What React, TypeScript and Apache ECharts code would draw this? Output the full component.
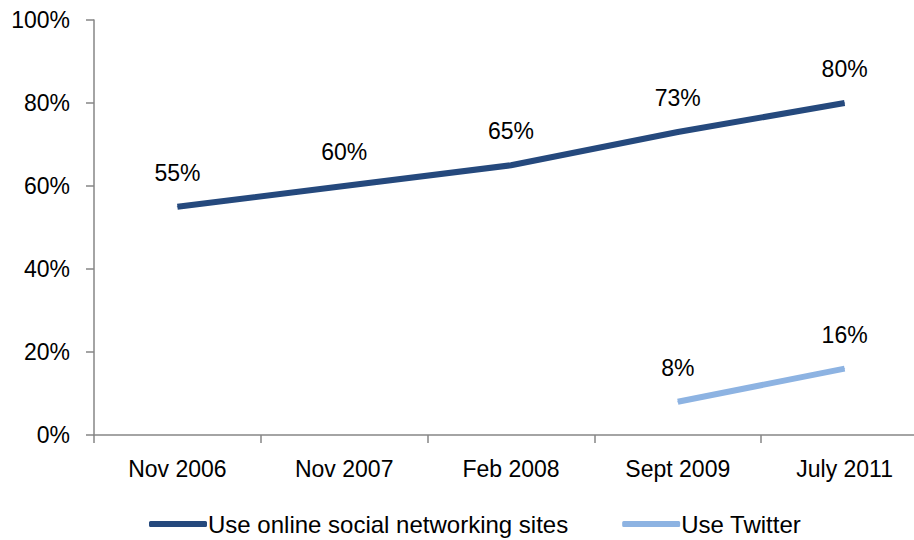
import React, { useEffect, useRef } from "react";
import * as echarts from "echarts";

const categories = ["Nov 2006", "Nov 2007", "Feb 2008", "Sept 2009", "July 2011"];
const socialValues = [55, 60, 65, 73, 80];
const twitterValues: (number | string)[] = ["-", "-", "-", 8, 16];
const yTicks = [0, 20, 40, 60, 80, 100];

const FONT = "Liberation Sans";

export default function App() {
  const ref = useRef<HTMLDivElement>(null);
  useEffect(() => {
    if (!ref.current) return;
    const chart = echarts.init(ref.current, null, { renderer: "svg" });
    const labelStyle = {
      show: true,
      position: "top" as const,
      distance: 22,
      formatter: "{c}%",
      fontFamily: FONT,
      fontSize: 23,
      color: "#000",
    };
    chart.setOption({
      animation: false,
      backgroundColor: "#fff",
      grid: { left: 94, top: 20, width: 834, height: 415 },
      xAxis: {
        type: "category",
        data: categories,
        boundaryGap: true,
        axisLine: { lineStyle: { color: "#868686", width: 1.5 } },
        axisTick: { show: true, length: 8, alignWithLabel: false, lineStyle: { color: "#868686", width: 1.5 } },
        axisLabel: { fontFamily: FONT, fontSize: 23, color: "#000", margin: 22 },
        splitLine: { show: false },
      },
      yAxis: {
        type: "value",
        min: yTicks[0],
        max: yTicks[yTicks.length - 1],
        interval: 20,
        axisLine: { show: true, lineStyle: { color: "#868686", width: 1.5 } },
        axisTick: { show: true, length: 8, lineStyle: { color: "#868686", width: 1.5 } },
        axisLabel: { fontFamily: FONT, fontSize: 23, color: "#000", margin: 24, formatter: "{value}%" },
        splitLine: { show: false },
      },
      legend: {
        top: 507,
        left: 144,
        itemWidth: 58,
        itemHeight: 6,
        itemGap: 54,
        icon: "roundRect",
        textStyle: { fontFamily: FONT, fontSize: 24, color: "#000", padding: [0, 0, 0, -4] },
        data: ["Use online social networking sites", "Use Twitter"],
      },
      series: [
        {
          name: "Use online social networking sites",
          type: "line",
          data: socialValues,
          symbol: "circle",
          symbolSize: 1,
          showSymbol: true,
          lineStyle: { color: "#25497D", width: 6 },
          itemStyle: { color: "#25497D" },
          label: labelStyle,
        },
        {
          name: "Use Twitter",
          type: "line",
          data: twitterValues,
          symbol: "circle",
          symbolSize: 1,
          showSymbol: true,
          lineStyle: { color: "#8DB3E2", width: 6 },
          itemStyle: { color: "#8DB3E2" },
          label: labelStyle,
        },
      ],
    });
    return () => chart.dispose();
  }, []);
  return (
    <div style={{ position: "absolute", left: 0, top: 0, width: 914, height: 540, overflow: "hidden" }}>
      <div ref={ref} style={{ width: 940, height: 540 }} />
    </div>
  );
}
